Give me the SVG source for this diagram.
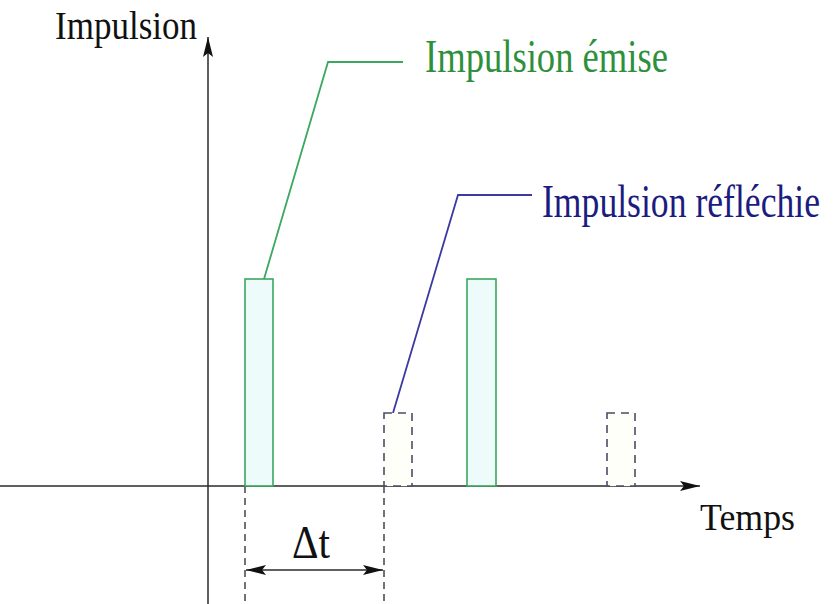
<svg xmlns="http://www.w3.org/2000/svg" width="835" height="604" viewBox="0 0 835 604">
<style>
.axis{stroke:#2a2a2a;stroke-width:1.5;fill:none}
.green{stroke:#3aa860;stroke-width:1.6;fill:#eefbfb}
.dash{stroke:#4a4e66;stroke-width:1.6;fill:#fffffa;stroke-dasharray:8 6}
.guide{stroke:#444;stroke-width:1.5;stroke-dasharray:7 5;fill:none}
.lg{stroke:#3aa860;stroke-width:1.8;fill:none}
.lb{stroke:#3a3aa0;stroke-width:1.8;fill:none}
.t{font-family:'Liberation Serif','Times New Roman',Tinos,'DejaVu Serif','Noto Serif',serif}
</style>
<defs>
<marker id="ah" viewBox="0 0 20 10" refX="20" refY="5" markerWidth="20" markerHeight="10" markerUnits="userSpaceOnUse" orient="auto-start-reverse">
<path d="M0,0 L20,5 L0,10 L4,5 Z" fill="#111"/>
</marker>
</defs>
<rect width="835" height="604" fill="#fff"/>
<g id="connectors">
<line class="axis" x1="208" y1="604" x2="208" y2="37" marker-end="url(#ah)"/>
<line class="axis" x1="0" y1="486" x2="700" y2="486" marker-end="url(#ah)"/>
<line class="guide" x1="245" y1="486" x2="245" y2="604"/>
<line class="guide" x1="384" y1="486" x2="384" y2="604"/>
<line class="axis" x1="246" y1="570" x2="383" y2="570" marker-start="url(#ah)" marker-end="url(#ah)"/>
<polyline class="lg" points="264,279 328,62 403,62"/>
<polyline class="lb" points="393,413 458,195 532,195"/>
</g>
<g id="pulse-emise-1"><rect class="green" x="245" y="279" width="28" height="207"/></g>
<g id="pulse-emise-2"><rect class="green" x="467" y="279" width="29" height="207"/></g>
<g id="pulse-reflechie-1"><rect class="dash" x="384" y="413" width="28" height="73"/></g>
<g id="pulse-reflechie-2"><rect class="dash" x="607" y="413" width="28" height="73"/></g>
<g id="label-y"><text class="t" transform="translate(55,39) scale(1,1.12)" font-size="35" textLength="142" lengthAdjust="spacingAndGlyphs" fill="#111">Impulsion</text></g>
<g id="label-x"><text class="t" transform="translate(700,530) scale(1,1.1)" font-size="35" textLength="95" lengthAdjust="spacingAndGlyphs" fill="#111">Temps</text></g>
<g id="label-emise"><text class="t" transform="translate(425,72) scale(1,1.3)" font-size="36" textLength="243" lengthAdjust="spacingAndGlyphs" fill="#2e8f3c">Impulsion émise</text></g>
<g id="label-reflechie"><text class="t" transform="translate(542,217) scale(1,1.3)" font-size="36" textLength="278" lengthAdjust="spacingAndGlyphs" fill="#1c1c80">Impulsion réfléchie</text></g>
<g id="label-dt"><text class="t" transform="translate(292,558) scale(1,1.15)" font-size="40" textLength="38" lengthAdjust="spacingAndGlyphs" fill="#111">Δt</text></g>
</svg>
